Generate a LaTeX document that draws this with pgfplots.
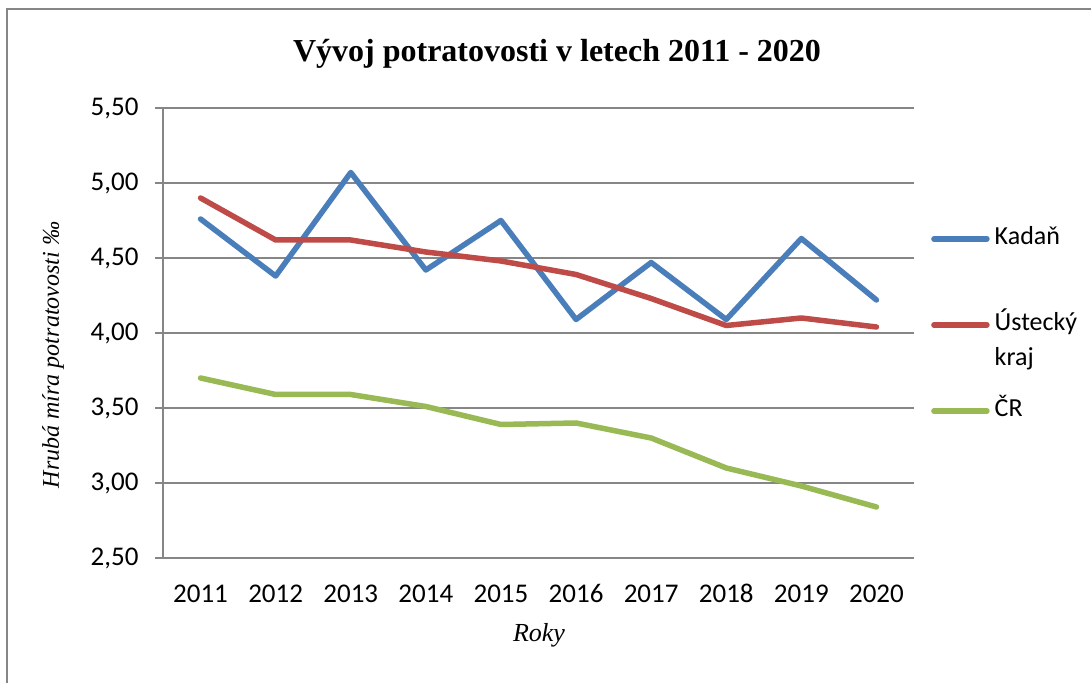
\documentclass[border=0pt]{standalone}
\usepackage{pgfplots}
\pgfplotsset{compat=1.18}
\usepackage{fontspec}
\setmainfont{Liberation Serif}
\newfontfamily\carlito{Carlito}

\definecolor{cKad}{RGB}{74,126,187}
\definecolor{cUst}{RGB}{190,75,72}
\definecolor{cCR}{RGB}{152,185,84}
\definecolor{gridc}{RGB}{134,134,134}

\begin{document}
\begin{tikzpicture}[x=1pt,y=1pt]
\useasboundingbox (0,0) rectangle (1091,682);
\fill[white] (0,0) rectangle (1091,682);
\begin{scope}
\clip (0,0) rectangle (1091,682);
\draw[gridc, line width=2pt] (7,-10) -- (7,673) -- (1100,673);
\end{scope}
\node[anchor=base, font=\bfseries\fontsize{32}{38}\selectfont] at (557,620) {Vývoj potratovosti v letech 2011 - 2020};
\node[rotate=90, font=\itshape\fontsize{24}{28}\selectfont] at (53,327) {Hrubá míra potratovosti ‰};
\node[anchor=base, font=\itshape\fontsize{26}{30}\selectfont] at (539,41) {Roky};
\begin{axis}[
  at={(163pt,124pt)}, anchor=south west,
  scale only axis, width=751pt, height=450pt,
  xmin=-0.5, xmax=9.5, ymin=2.5, ymax=5.5,
  axis x line*=bottom, axis y line*=left,
  axis line style={gridc, line width=1.5pt, -},
  xtick={0,1,2,3,4,5,6,7,8,9},
  xticklabels={2011,2012,2013,2014,2015,2016,2017,2018,2019,2020},
  major x tick style={draw=none},
  extra x ticks={-0.5,0.5,1.5,2.5,3.5,4.5,5.5,6.5,7.5,8.5,9.5},
  extra x tick labels={},
  extra x tick style={grid=none, tick align=outside, major tick length=8pt, tick style={gridc, line width=1.5pt}},
  ytick={2.5,3,3.5,4,4.5,5,5.5},
  ymajorgrids, grid style={gridc, line width=1.5pt},
  tick align=outside, major tick length=8pt,
  y tick style={gridc, line width=1.5pt},
  ticklabel style={font=\carlito\fontsize{27}{32}\selectfont},
  yticklabel style={xshift=-13pt, /pgf/number format/.cd, fixed, fixed zerofill, precision=2, use comma, assume math mode=true},
  xticklabel style={yshift=-15pt, text height=18pt, text depth=0pt},
  legend style={at={(1.0226,0.7373)}, anchor=north west, draw=none, fill=none,
    inner sep=0pt, row sep=61pt, column sep=5pt,
    font=\carlito\fontsize{26}{31}\selectfont,
    nodes={inner sep=0pt, text height=18pt, text depth=7pt}},
  legend cell align=left,
  legend image code/.code={\draw[#1, line cap=round] (0pt,0pt) -- (53pt,0pt);},
  every axis plot/.append style={line width=5.5pt, line join=round, line cap=round},
]
\addplot[cKad] coordinates {(0,4.76) (1,4.38) (2,5.07) (3,4.42) (4,4.75) (5,4.09) (6,4.47) (7,4.09) (8,4.63) (9,4.22)};
\addlegendentry{Kadaň}
\addplot[cUst] coordinates {(0,4.90) (1,4.62) (2,4.62) (3,4.54) (4,4.48) (5,4.39) (6,4.23) (7,4.05) (8,4.10) (9,4.04)};
\addlegendentry{\smash{\begin{tabular}[t]{@{}l@{}}Ústecký\\[4pt]kraj\end{tabular}}}
\addplot[cCR] coordinates {(0,3.70) (1,3.59) (2,3.59) (3,3.51) (4,3.39) (5,3.40) (6,3.30) (7,3.10) (8,2.98) (9,2.84)};
\addlegendentry{ČR}
\end{axis}
\end{tikzpicture}
\end{document}
